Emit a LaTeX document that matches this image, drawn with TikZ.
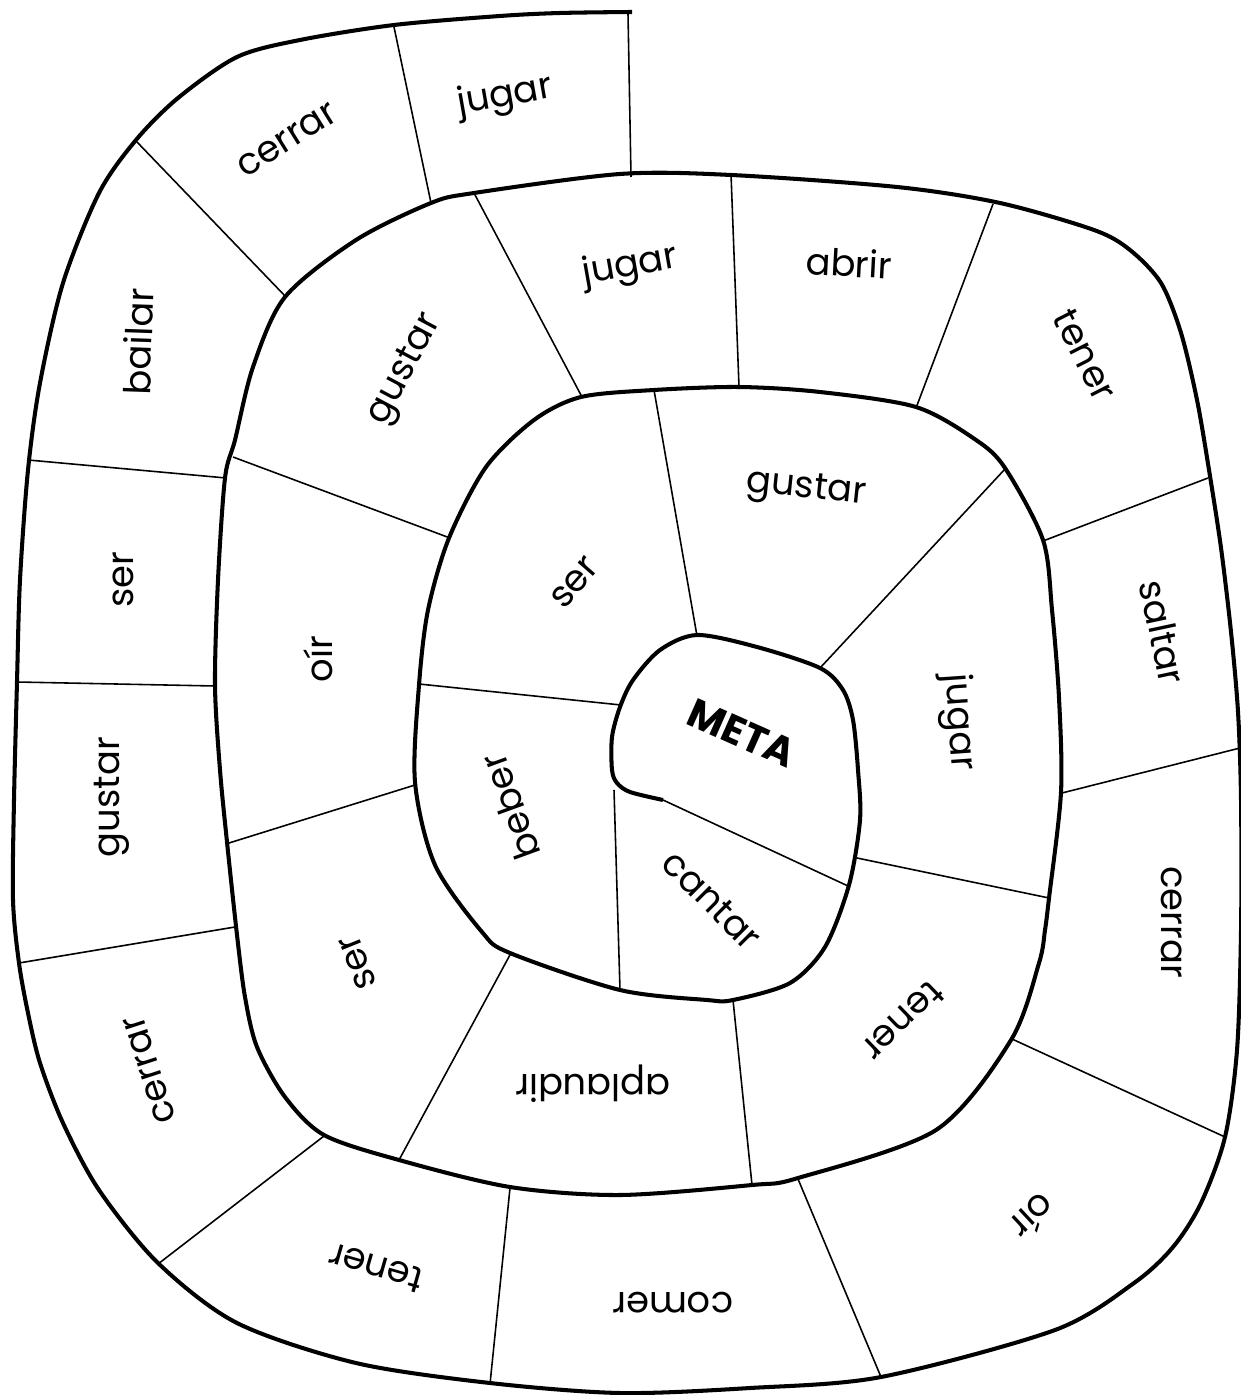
\documentclass[tikz,border=0pt]{standalone}
\usepackage{fontspec}
\setmainfont{Poppins}
\begin{document}
\begin{tikzpicture}[x=0.01cm,y=-0.01cm,
  track/.style={line width=1.15pt,line join=round},
  sep/.style={line width=0.45pt},
  lbl/.style={inner sep=0pt,font=\fontsize{10.5}{12}\selectfont}]
\useasboundingbox (0,0) rectangle (1240,1395);
% spiral
\draw[track] plot[smooth,tension=0.5] coordinates {
 (632,12) (560,13) (500,16) (394,25) (300,40) (237,57) (178,98) (136,140)
 (99,193) (63,283) (40,383) (28,470) (20,580) (17,682) (14,800) (13,900)
 (19,963) (28,1013) (40,1063) (63,1123) (99,1190) (158,1263) (237,1323)
 (356,1363) (490,1383) (620,1393) (750,1388) (881,1377) (1055,1330)
 (1134,1283) (1173,1247) (1201,1203) (1225,1137) (1237,1050) (1241,930)
 (1241,800) (1238,712) (1231,632) (1221,548) (1209,470) (1197,400)
 (1181,333) (1161,283) (1130,250) (1094,230) (1000,203) (897,187)
 (731,175) (620,174)
 (474,193) (431,203) (356,240) (285,297) (253,367) (235,440) (225,478)
 (218,580) (215,685) (220,770) (227,842) (237,935) (245,997) (257,1047)
 (285,1097) (324,1135) (399,1160) (510,1187) (620,1195) (752,1185)
 (798,1178) (936,1130) (1011,1040) (1039,963) (1045,930) (1049,898)
 (1061,792) (1059,698) (1052,610) (1043,540) (1005,468) (976,440)
 (916,407) (820,392) (739,387) (654,390)
 (581,397) (534,420) (486,467) (449,538) (428,610) (419,685) (415,782)
 (435,865) (482,932) (510,953) (620,990) (707,1000) (733,1000) (790,983)
 (825,947) (849,885) (860,820) (858,770) (853,720) (843,690) (820,668)
 (757,647) (697,635) (660,650) (633,680) (620,707) (612,737) (612,770)
 (617,783) (630,792) (663,800)};
% outer ring
\draw[sep] (628,14) -- (631,177);
\draw[sep] (394,27) -- (431,203);
\draw[sep] (137,142) -- (286,297);
\draw[sep] (28,460) -- (226,478);
\draw[sep] (17,682) -- (215,686);
\draw[sep] (19,963) -- (235,927);
\draw[sep] (158,1264) -- (324,1136);
\draw[sep] (490,1384) -- (510,1188);
\draw[sep] (881,1377) -- (798,1179);
\draw[sep] (1225,1137) -- (1012,1039);
\draw[sep] (1240,748) -- (1062,793);
\draw[sep] (1208,478) -- (1043,541);
\draw[sep] (993,204) -- (916,408);
\draw[sep] (731,174) -- (739,387);
% middle ring
\draw[sep] (474,193) -- (582,397);
\draw[sep] (233,457) -- (450,538);
\draw[sep] (229,843) -- (415,785);
\draw[sep] (399,1160) -- (511,953);
\draw[sep] (752,1185) -- (733,1000);
\draw[sep] (1049,898) -- (857,858);
\draw[sep] (1005,469) -- (820,668);
\draw[sep] (654,390) -- (697,636);
% inner ring
\draw[sep] (419,684) -- (621,705);
\draw[sep] (614,790) -- (620,990);
\draw[sep] (663,800) -- (848,886);
% labels
\node[lbl,rotate=10] (o1) at (505,97) {jugar};
\node[lbl,rotate=32] (o2) at (287,140) {cerrar};
\node[lbl,rotate=88] (o3) at (138,342) {bailar};
\node[lbl,rotate=90] (o4) at (123,580) {ser};
\node[lbl,rotate=90] (o5) at (112,797) {gustar};
\node[lbl,rotate=108] (o6) at (150,1070) {cerrar};
\node[lbl,rotate=164] (o7) at (376,1268) {tener};
\node[lbl,rotate=180] (o8) at (673,1303) {comer};
\node[lbl,rotate=223] (o9) at (1033,1217) {oír};
\node[lbl,rotate=-90] (o10) at (1172,922) {cerrar};
\node[lbl,rotate=-78] (o11) at (1163,632) {saltar};
\node[lbl,rotate=-63] (o12) at (1085,355) {tener};
\node[lbl,rotate=-3] (o13) at (849,263) {abrir};
\node[lbl,rotate=10] (m1) at (630,267) {jugar};
\node[lbl,rotate=62] (m2) at (406,370) {gustar};
\node[lbl,rotate=90] (m3) at (318,659) {oír};
\node[lbl,rotate=112] (m4) at (358,962) {ser};
\node[lbl,rotate=180] (m5) at (593,1084) {aplaudir};
\node[lbl,rotate=224] (m6) at (903,1021) {tener};
\node[lbl,rotate=-86] (m7) at (958,722) {jugar};
\node[lbl,rotate=-6] (i1) at (806,490) {gustar};
\node[lbl,rotate=49] (i2) at (575,583) {ser};
\node[lbl,rotate=110] (i3) at (510,807) {beber};
\node[lbl,rotate=-45] (i4) at (712,900) {cantar};
\node[lbl,rotate=-24,font=\fontsize{11.5}{13}\selectfont\bfseries] (goal) at (742,733) {META};
\end{tikzpicture}
\end{document}
